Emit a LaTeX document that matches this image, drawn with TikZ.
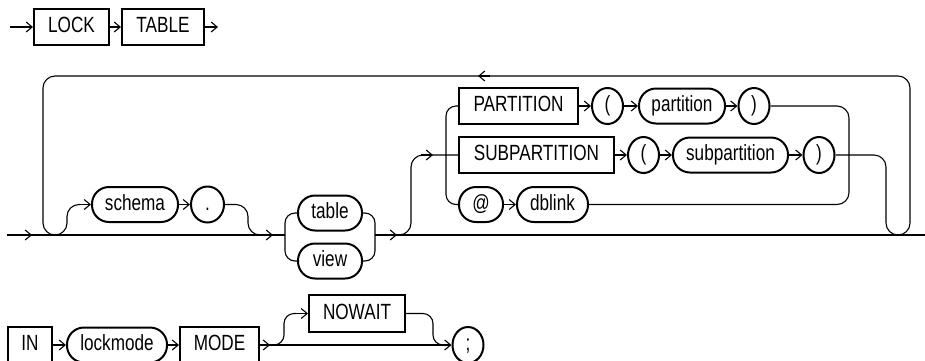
\documentclass[tikz,border=0pt]{standalone}
\usepackage{fontspec}
\setmainfont{Liberation Sans}[FakeStretch=0.78]
\usetikzlibrary{arrows.meta,shapes.geometric}
\begin{document}
\begin{tikzpicture}[x=1pt,y=-1pt,
  conn/.style={line width=1.1pt},
  arr/.style={conn,-{Straight Barb[length=6pt,width=10pt,line width=1.1pt]}},
  kw/.style={draw,line width=2pt,rectangle,inner sep=0pt,minimum height=36pt,
    text height=15.5pt,text depth=4pt,font=\fontsize{22}{26}\selectfont},
  var/.style={draw,line width=2pt,rectangle,rounded corners=17pt,inner sep=0pt,
    minimum height=35pt,text height=15.5pt,text depth=4pt,font=\fontsize{22}{26}\selectfont},
  sym/.style={draw,line width=2pt,ellipse,inner sep=0pt,minimum width=31pt,
    minimum height=36pt,text height=15.5pt,text depth=4pt,font=\fontsize{22}{26}\selectfont},
  loopc/.style={conn,rounded corners=12pt}]
\useasboundingbox (0,0) rectangle (925,360);

% ---------- row 1
\node[kw,minimum width=75pt] (lock) at (71.5,27) {LOCK};
\node[kw,minimum width=82pt] (tbl) at (163,27) {TABLE};
\coordinate (s1) at (10,27);
\coordinate (e1) at (218,27);
\draw[arr] (s1) -- (lock);
\draw[arr] (lock) -- (tbl);
\draw[arr] (tbl) -- (e1);

% ---------- row 2 nodes
\node[var,minimum width=86pt] (schema) at (135,204.5) {schema};
\node[sym,minimum width=33pt] (dot) at (207.5,204.5) {.};
\node[var,minimum width=64pt] (table) at (330,213) {table};
\node[var,minimum width=64pt] (view) at (330,261) {view};
\node[kw,minimum width=119pt] (part) at (518.5,106) {PARTITION};
\node[sym] (lp1) at (607.5,106) {(};
\node[var,minimum width=86pt] (partn) at (682,106) {partition};
\node[sym] (rp1) at (754,106) {)};
\node[kw,minimum width=155pt] (subpart) at (536.5,155) {SUBPARTITION};
\node[sym] (lp2) at (643.5,155) {(};
\node[var,minimum width=115pt] (subpartn) at (730.5,155) {subpartition};
\node[sym] (rp2) at (819,155) {)};
\node[var,minimum width=44pt] (at) at (481,204.5) {@};
\node[var,minimum width=71pt] (dblink) at (552.5,204.5) {dblink};

% main line
\coordinate (m0) at (7,235);
\coordinate (mA) at (32,235);
\coordinate (mB) at (285,235);
\coordinate (mC) at (375,235);
\coordinate (mE) at (925,235);
\draw[conn] (m0) -- (mB);
\draw[conn] (mC) -- (mE);
\draw[arr] (20,235) -- (mA);
\draw[arr] (260,235) -- (273,235);
\draw[arr] (385,235) -- (397,235);

% repeat loop
\draw[loopc] (898,235) -- (910,235) -- (910,76) -- (43,76) -- (43,235) -- (55,235);
\draw[arr] (490,76) -- (478,76);

% schema.
\draw[loopc] (55,235) -- (67,235) -- (67,204.5) -- (80,204.5);
\draw[arr] (78,204.5) -- (schema.west);
\draw[arr] (schema) -- (dot);
\draw[loopc] (dot.east) -- (248,204.5) -- (248,235) -- (260,235);

% table / view
\draw[conn,rounded corners=10pt] (table.west) -- (285,213) -- (285,261) -- (view.west);
\draw[conn,rounded corners=10pt] (table.east) -- (375,213) -- (375,261) -- (view.east);

% partition group
\draw[loopc] (399,235) -- (411,235) -- (411,155) -- (subpart.west);
\draw[arr] (421,155) -- (433,155);
\draw[conn,rounded corners=10pt] (part.west) -- (446,106) -- (446,204.5) -- (at.west);
\draw[arr] (part) -- (lp1);
\draw[arr] (lp1) -- (partn);
\draw[arr] (partn) -- (rp1);
\draw[arr] (subpart) -- (lp2);
\draw[arr] (lp2) -- (subpartn);
\draw[arr] (subpartn) -- (rp2);
\draw[arr] (at) -- (dblink);
\draw[loopc] (rp1.east) -- (849,106) -- (849,204.5) -- (dblink.east);
\draw[loopc] (rp2.east) -- (886,155) -- (886,235) -- (898,235);

% ---------- row 3
\node[kw,minimum width=44pt] (in) at (30,345) {IN};
\node[var,minimum width=100pt] (lockmode) at (117,345) {lockmode};
\node[kw,minimum width=79pt] (mode) at (219.5,345) {MODE};
\node[kw,minimum width=96pt,minimum height=37pt] (nowait) at (357,313.5) {NOWAIT};
\node[sym] (semi) at (468,345) {;};
\draw[arr] (in) -- (lockmode);
\draw[arr] (lockmode) -- (mode);
\draw[arr] (mode) -- (semi);
\draw[arr] (mode.east) -- (270,345);
\draw[conn,rounded corners=10pt] (273,345) -- (284,345) -- (284,313.5) -- (296,313.5);
\draw[arr] (294,313.5) -- (nowait.west);
\draw[conn,rounded corners=10pt] (nowait.east) -- (433,313.5) -- (433,345) -- (443,345);
\end{tikzpicture}
\end{document}
